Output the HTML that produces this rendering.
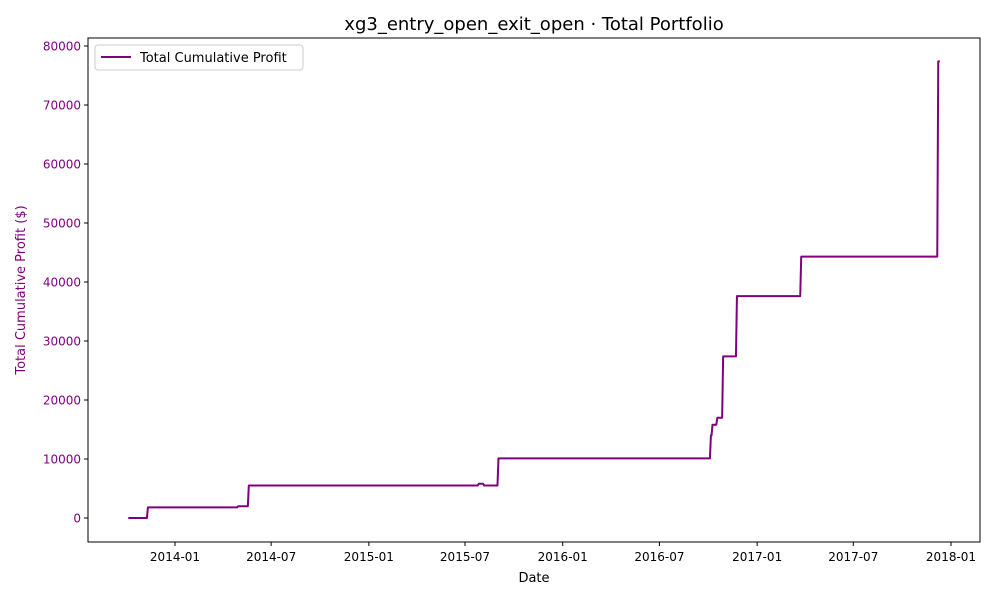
<!DOCTYPE html>
<html><head><meta charset="utf-8"><style>
body{margin:0;background:#fff;font-family:"Liberation Sans","DejaVu Sans",sans-serif;}
svg text{font-family:"DejaVu Sans","Liberation Sans",sans-serif;}
</style></head><body>
<svg id="chart" width="1000" height="600" xmlns="http://www.w3.org/2000/svg">
<rect width="1000" height="600" fill="#fff"/>
<text x="534" y="30" font-size="18" text-anchor="middle">xg3_entry_open_exit_open · Total Portfolio</text>
<g id="axes"></g>
<rect x="88" y="38" width="892" height="504" fill="none" stroke="#000" stroke-width="1"/>
<g>
<rect x="95" y="45" width="208" height="25" rx="3" fill="#fff" stroke="#ccc"/>
<line x1="101" y1="57" x2="131" y2="57" stroke="purple" stroke-width="2"/>
<text x="140" y="62" font-size="13">Total Cumulative Profit</text>
</g>
<text x="534" y="582" font-size="13" text-anchor="middle">Date</text>
<text transform="translate(25,290) rotate(-90)" font-size="13" fill="purple" text-anchor="middle">Total Cumulative Profit ($)</text>
</svg>
<script>
const dates = ["2013-10-05","2013-11-11","2014-04-30","2014-05-20","2015-07-27","2015-08-06","2015-09-02","2016-10-06","2016-10-09","2016-10-18","2016-10-29","2016-11-24","2017-03-25","2017-12-08"];
const values = [0,1800,2000,5500,5800,5500,10100,14000,15800,17000,27400,37600,44300,77400];
const endDate = "2017-12-11";
const xTickLabels = ["2014-01","2014-07","2015-01","2015-07","2016-01","2016-07","2017-01","2017-07","2018-01"];
const yTicks = [0,10000,20000,30000,40000,50000,60000,70000,80000];

const NS="http://www.w3.org/2000/svg";
const t0=Date.parse("2014-01-01"), t1=Date.parse("2018-01-01");
function xs(d){const t=Date.parse(d.length===7?d+"-01":d);return 175+(t-t0)/(t1-t0)*776;}
function ys(v){return 518-v/80000*472;}
const axes=document.getElementById("axes");
const svg=document.getElementById("chart");
function mk(tag,attrs,parent){const e=document.createElementNS(NS,tag);for(const k in attrs)e.setAttribute(k,attrs[k]);(parent||axes).appendChild(e);return e;}
xTickLabels.forEach(l=>{const x=xs(l);
 const tk=mk("line",{x1:x,x2:x,y1:542,y2:546,stroke:"#000"});
 
 
 const tx=mk("text",{x:x,y:561,"font-size":12,"text-anchor":"middle"});tx.textContent=l;
 
 
});
yTicks.forEach(v=>{const y=ys(v);
 const tk=mk("line",{x1:84,x2:88,y1:y,y2:y,stroke:"#000"});
 
 
 const tx=mk("text",{x:81,y:y+4.5,"font-size":12,"text-anchor":"end",fill:"purple"});tx.textContent=v;
 
 
});
let d="";
for(let i=0;i<dates.length;i++){
 const x=xs(dates[i]),y=ys(values[i]);
 if(i===0)d+="M"+x+","+y;else d+="L"+(x-1)+","+ys(values[i-1])+"L"+x+","+y;
}
d+="L"+xs(endDate)+","+ys(values[values.length-1]);
const p=mk("path",{d:d,fill:"none",stroke:"purple","stroke-width":2,"stroke-linejoin":"round"},svg);


</script>
</body></html>
